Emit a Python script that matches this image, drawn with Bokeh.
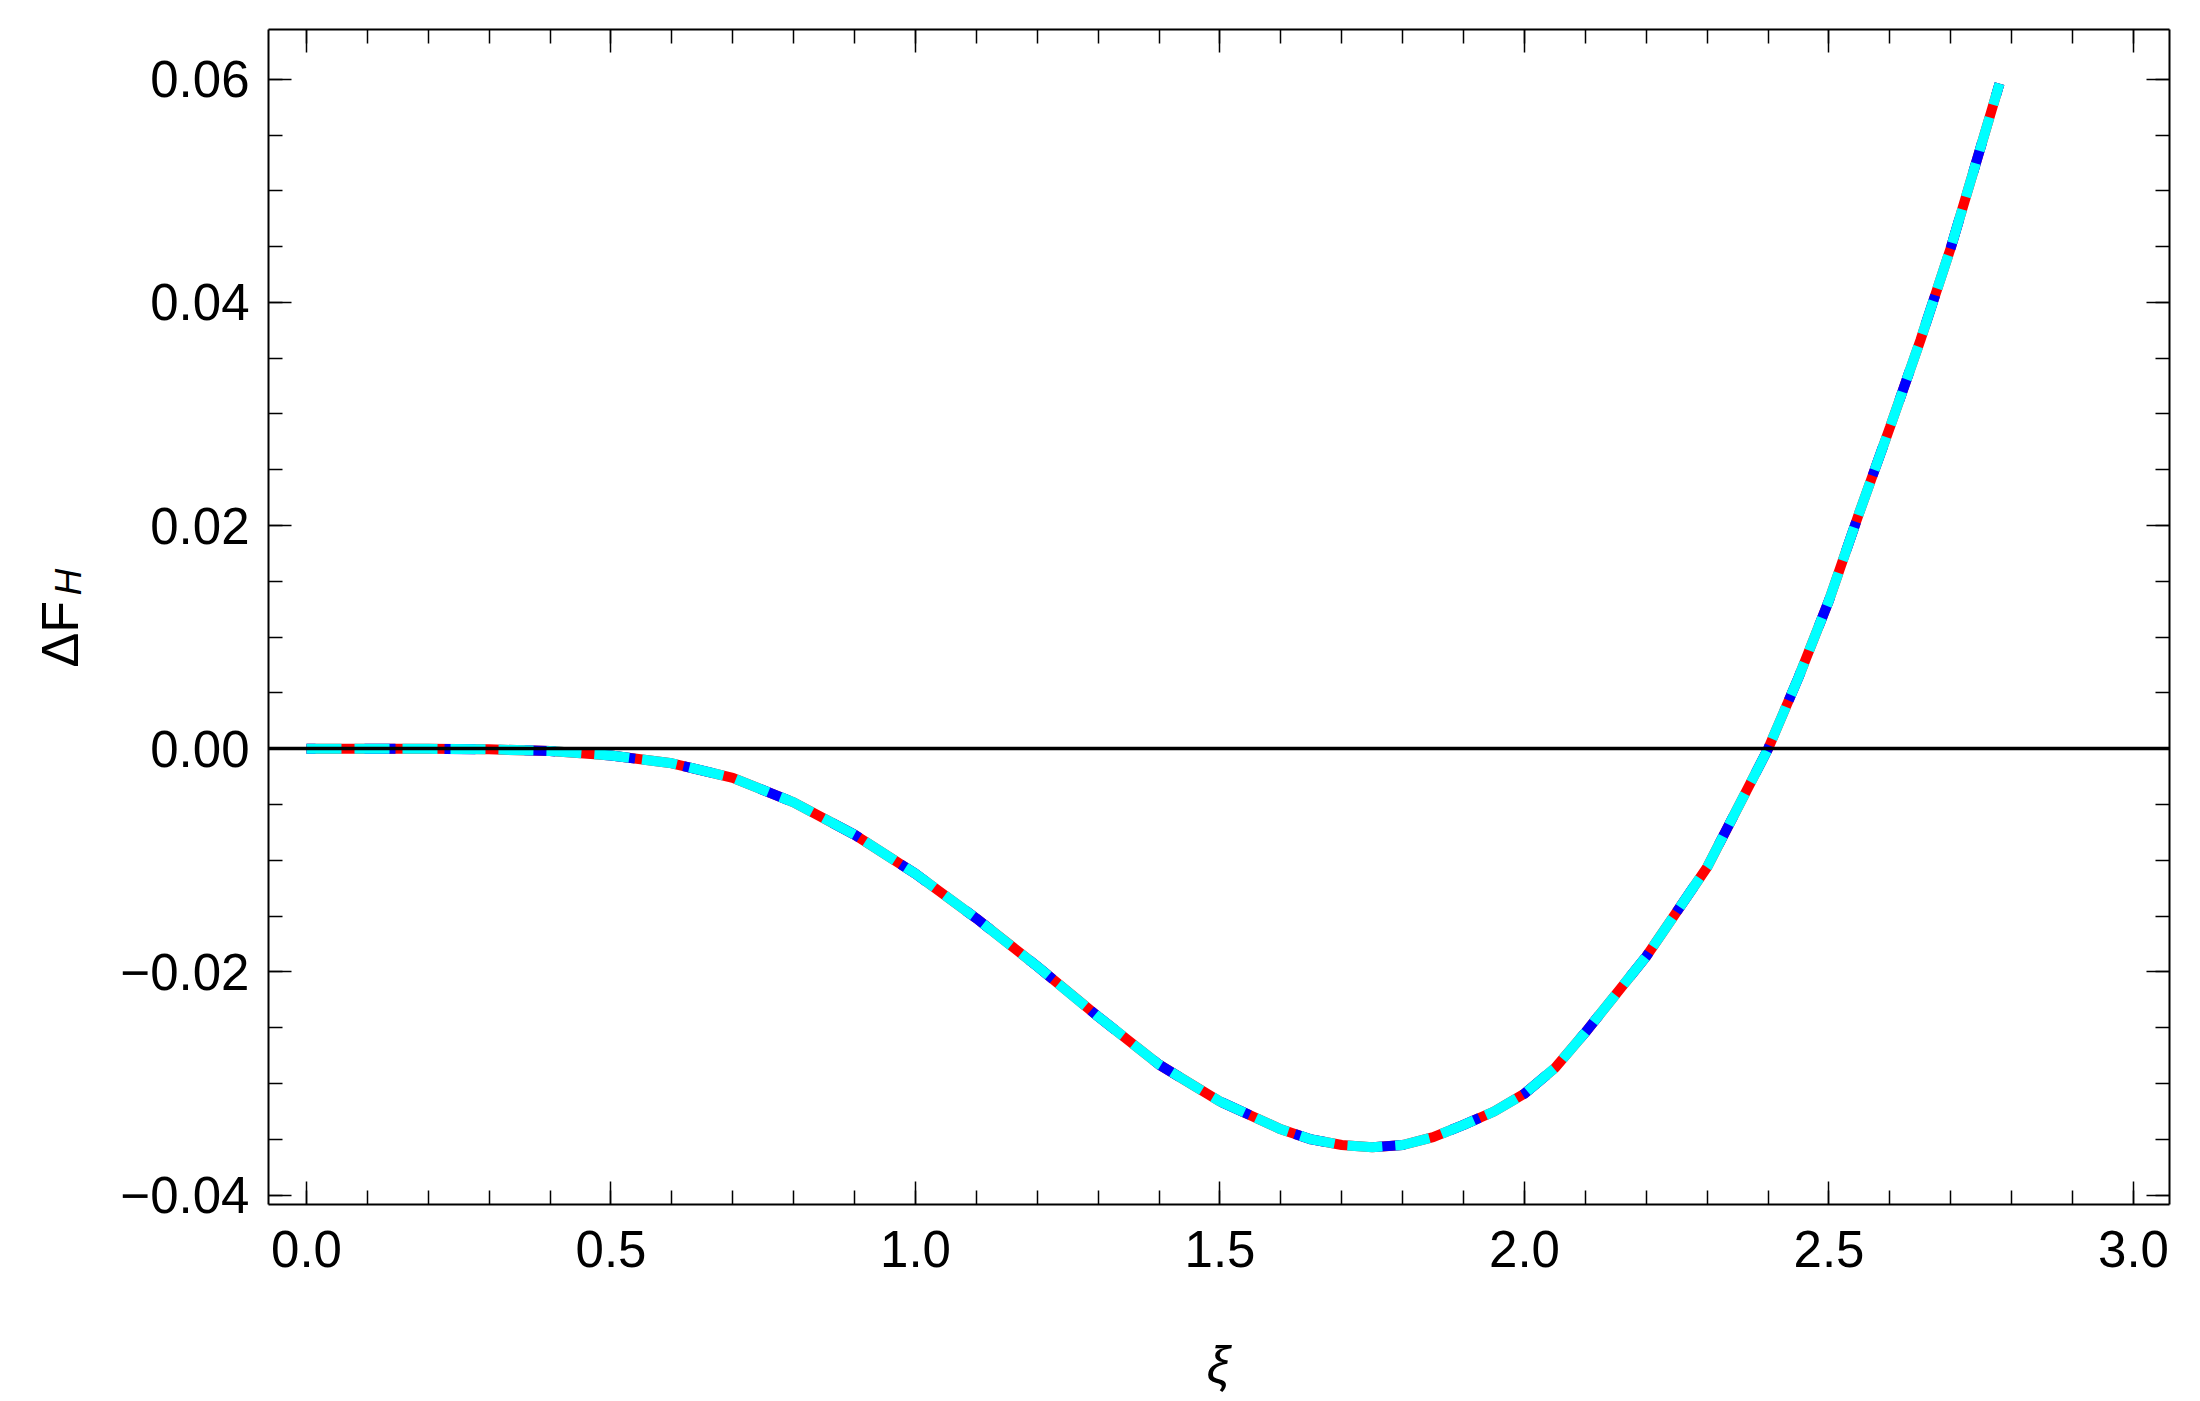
import math
from bokeh.plotting import figure
from bokeh.models import (Range1d, LinearAxis, FixedTicker, CustomJSTickFormatter,
                          Label, ColumnDataSource)
from bokeh.embed import file_html
from bokeh.resources import INLINE

# ---- data ----
xi = [0.0, 0.1, 0.2, 0.3, 0.4, 0.5, 0.6, 0.7, 0.8, 0.9, 1.0, 1.1, 1.2, 1.3, 1.4,
      1.5, 1.6, 1.65, 1.7, 1.75, 1.8, 1.85, 1.9, 1.95, 2.0, 2.05, 2.1, 2.2, 2.3,
      2.4, 2.45, 2.5, 2.55, 2.6, 2.65, 2.7, 2.78]
dF_H = [0.0, 0.0, 0.0, -0.00005, -0.0002, -0.0006, -0.0013, -0.0026, -0.0048,
        -0.0077, -0.0112, -0.0152, -0.0195, -0.0240, -0.0283, -0.0316, -0.0341,
        -0.0350, -0.0355, -0.0357, -0.0355, -0.0348, -0.0337, -0.0325, -0.0309,
        -0.0286, -0.0254, -0.0186, -0.0106, 0.0, 0.0064, 0.0133, 0.0212, 0.0288,
        0.0366, 0.0449, 0.0596]

x_major = [0.0, 0.5, 1.0, 1.5, 2.0, 2.5, 3.0]
x_minor = [i / 10 for i in range(0, 31)]
y_major = [-0.04, -0.02, 0.0, 0.02, 0.04, 0.06]
y_minor = [i / 1000 for i in range(-40, 61, 5)]

x_label = "ξ"
y_label_main = "ΔF"
y_label_sub = "H"

FONT = "Liberation Sans"

# visible plot frame (data units)
X_LO, X_HI = -0.0624, 3.0591
Y_LO, Y_HI = -0.04083, 0.06445

src = ColumnDataSource(data=dict(x=xi, y=dF_H))

p = figure(width=2192, height=1393,
           x_range=Range1d(-0.50246, 3.09688), y_range=Range1d(-0.057769, 0.067052),
           x_axis_type=None, y_axis_type=None,
           output_backend="svg", toolbar_location=None,
           min_border_left=0, min_border_right=0,
           min_border_top=0, min_border_bottom=0)
p.outline_line_color = None
p.background_fill_color = "white"
p.border_fill_color = "white"


def make_axis(ticks, minor, code, labelled, loc, bounds):
    ax = LinearAxis(ticker=FixedTicker(ticks=ticks, minor_ticks=minor),
                    formatter=CustomJSTickFormatter(code=code if labelled else "return ''"),
                    fixed_location=loc, bounds=bounds)
    ax.axis_line_color = "black"
    ax.axis_line_width = 2
    ax.major_tick_line_color = "black"
    ax.minor_tick_line_color = "black"
    ax.major_tick_line_width = 1.5
    ax.minor_tick_line_width = 1.5
    ax.major_tick_in = 23
    ax.major_tick_out = 0
    ax.minor_tick_in = 14
    ax.minor_tick_out = 0
    ax.major_label_text_font = FONT
    ax.major_label_text_color = "black"
    ax.major_label_text_font_size = "51px" if labelled else "0px"
    return ax


xcode = "return tick.toFixed(1).replace('-', '\u2212');"
ycode = "var s = Math.abs(tick) < 1e-9 ? '0.00' : tick.toFixed(2); return s.replace('-', '\u2212');"

ax_b = make_axis(x_major, x_minor, xcode, True, Y_LO, (X_LO, X_HI))
ax_b.major_label_standoff = 27
ax_t = make_axis(x_major, x_minor, xcode, False, Y_HI, (X_LO, X_HI))
ax_l = make_axis(y_major, y_minor, ycode, True, X_LO, (Y_LO, Y_HI))
ax_l.major_label_standoff = 19
ax_r = make_axis(y_major, y_minor, ycode, False, X_HI, (Y_LO, Y_HI))
p.add_layout(ax_b, "below")
p.add_layout(ax_t, "above")
p.add_layout(ax_l, "left")
p.add_layout(ax_r, "right")

# three overlapping curves
p.line("x", "y", source=src, line_color="#ff0000", line_width=10)
p.line("x", "y", source=src, line_color="#0000ff", line_width=10,
       line_dash="31 49", line_dash_offset=22)
p.line("x", "y", source=src, line_color="#00ffff", line_width=10,
       line_dash="35 13")

# horizontal axis through zero (drawn above the curves)
zero_axis = LinearAxis(ticker=FixedTicker(ticks=[]), fixed_location=0.0,
                       bounds=(X_LO, X_HI), formatter=CustomJSTickFormatter(code="return ''"))
zero_axis.axis_line_color = "black"
zero_axis.axis_line_width = 3.5
zero_axis.major_tick_in = 0
zero_axis.major_tick_out = 0
zero_axis.minor_tick_in = 0
zero_axis.minor_tick_out = 0
zero_axis.major_label_text_font_size = "0px"
p.add_layout(zero_axis, "below")

# axis labels
p.add_layout(Label(x=1.4975, y=-0.05526, text=x_label, text_align="center",
                   text_baseline="alphabetic", text_font=FONT,
                   text_font_style="italic", text_font_size="52px",
                   text_color="black"))
p.add_layout(Label(x=-0.40394, y=0.007285, text=y_label_main, angle=math.pi / 2,
                   text_align="left", text_baseline="alphabetic", text_font=FONT,
                   text_font_size="52px", text_color="black"))
p.add_layout(Label(x=-0.39080, y=0.013737, text=y_label_sub, angle=math.pi / 2,
                   text_align="left", text_baseline="alphabetic", text_font=FONT,
                   text_font_style="italic", text_font_size="37px",
                   text_color="black"))

open("out.html", "w").write(file_html(p, INLINE))
